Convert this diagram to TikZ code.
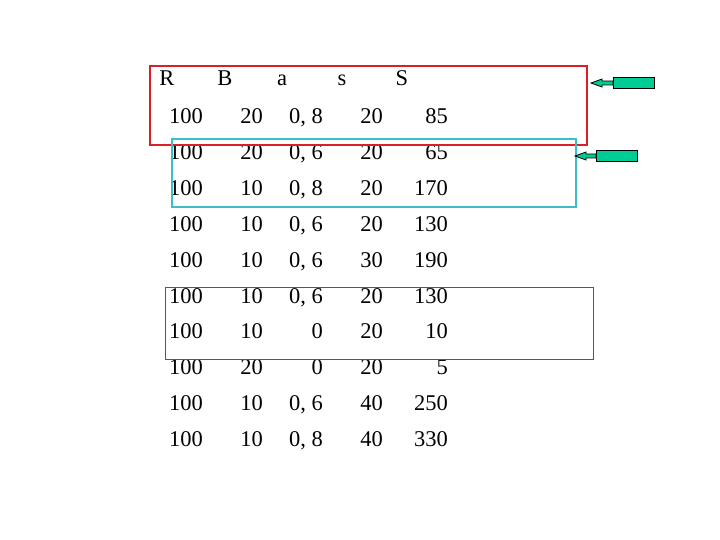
\documentclass[tikz,border=0pt]{standalone}
\usepackage{fontspec}
\setmainfont{Liberation Serif}
\definecolor{rd}{RGB}{220,30,40}
\definecolor{cy}{RGB}{60,190,200}
\definecolor{gr}{RGB}{0,204,150}
\tikzset{
 cell/.style={anchor=base east,inner sep=0pt,font=\fontsize{22.5}{24}\selectfont},
 hd/.style={anchor=base,inner sep=0pt,font=\fontsize{22.5}{24}\selectfont},
 redbox/.style={draw=rd,line width=1.1pt},
 cybox/.style={draw=cy,line width=1.1pt},
 gbox/.style={draw=black,fill=gr,line width=0.8pt,inner sep=0pt,minimum width=41pt,minimum height=11pt},
 garrow/.style={draw=black,fill=gr,line width=0.8pt}
}
\begin{document}
\begin{tikzpicture}[x=1pt,y=-1pt]
\useasboundingbox (0,0) rectangle (720,540);
\node[hd] (hR) at (167,86) {R};
\node[hd] (hB) at (225,86) {B};
\node[hd] (ha) at (282,86) {a};
\node[hd] (hs) at (342,86) {s};
\node[hd] (hS) at (402,86) {S};
\foreach \i/\a/\b/\c/\d/\e in {0/100/20/{0, 8}/20/85, 1/100/20/{0, 6}/20/65, 2/100/10/{0, 8}/20/170, 3/100/10/{0, 6}/20/130, 4/100/10/{0, 6}/30/190, 5/100/10/{0, 6}/20/130, 6/100/10/0/20/10, 7/100/20/0/20/5, 8/100/10/{0, 6}/40/250, 9/100/10/{0, 8}/40/330}{
 \pgfmathsetmacro\yy{124+35.8*\i}
 \node[cell] (c1\i) at (203,\yy) {\a};
 \node[cell] (c2\i) at (263,\yy) {\b};
 \node[cell] (c3\i) at (323,\yy) {\c};
 \node[cell] (c4\i) at (383,\yy) {\d};
 \node[cell] (c5\i) at (448,\yy) {\e};
}
\draw[redbox] (150,66) rectangle (587,145);
\draw[cybox] (172,139) rectangle (576,207);
\draw[redbox] (165.5,287.5) rectangle (593.5,359.5);
\node[gbox,anchor=north west] (g1) at (613,77) {};
\node[gbox,anchor=north west] (g2) at (596,150) {};
\coordinate (t1) at (591,83);
\coordinate (t2) at (575,156);
\draw[garrow] (613,81) -- (602,81) -- (602,79) -- (t1) -- (602,87) -- (602,85) -- (613,85) -- cycle;
\draw[garrow] (596,154) -- (586,154) -- (586,152) -- (t2) -- (586,160) -- (586,158) -- (596,158) -- cycle;
\end{tikzpicture}
\end{document}
